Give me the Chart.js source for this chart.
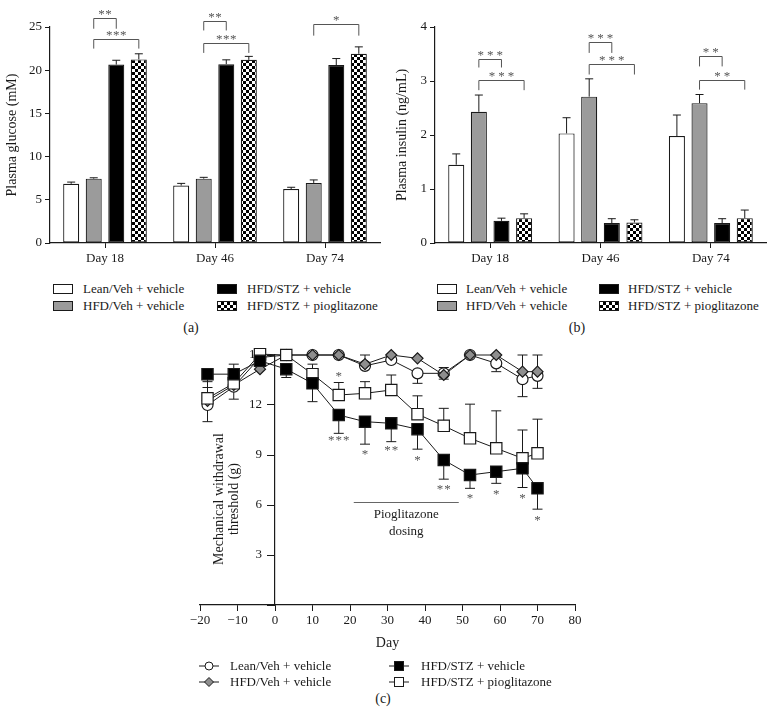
<!DOCTYPE html>
<html>
<head>
<meta charset="utf-8">
<script src="https://cdn.jsdelivr.net/npm/chart.js@4.4.1/dist/chart.umd.min.js"></script>
<style>
  body { margin: 0; background: #fff; }
  #page { position: relative; width: 770px; height: 722px; overflow: hidden;
          font-family: 'Liberation Serif', 'DejaVu Serif', serif; color: #1a1a1a; }
  canvas { position: absolute; }
  .txt { position: absolute; font-size: 13px; line-height: 16px; white-space: nowrap; }
  .box { position: absolute; width: 18px; height: 8px; border: 1px solid #1a1a1a; }
  .sym { position: absolute; }
  .panel { position: absolute; font-size: 14px; line-height: 16px; width: 40px; text-align: center; }
  #mwtTitle { position: absolute; left: 126px; top: 484px; width: 200px; height: 30px;
              font-size: 14px; line-height: 15px; text-align: center; transform: rotate(-90deg); }
</style>
</head>
<body>
<div id="page">
  <canvas id="glucose" width="388" height="275" style="left:0;top:0"></canvas>
  <canvas id="insulin" width="380" height="275" style="left:390px;top:0"></canvas>
  <canvas id="mwt" width="420" height="316" style="left:180px;top:340px"></canvas>
  <div id="mwtTitle">Mechanical withdrawal<br>threshold (g)</div>
  <div class="panel" style="left:171px;top:320px">(a)</div>
  <div class="panel" style="left:557px;top:320px">(b)</div>
  <div class="panel" style="left:363px;top:691px">(c)</div>
</div>
<script>
// groups and days
const groups = ['Lean/Veh + vehicle', 'HFD/Veh + vehicle', 'HFD/STZ + vehicle', 'HFD/STZ + pioglitazone'];
const days = ['Day 18', 'Day 46', 'Day 74'];

// (a) plasma glucose, mM (mean, SEM)
const glucoseLean = [6.85, 6.65, 6.25];
const glucoseHfd  = [7.45, 7.45, 6.95];
const glucoseStz  = [20.65, 20.7, 20.6];
const glucosePio  = [21.25, 21.2, 21.9];
const glucoseLeanErr = [0.2, 0.25, 0.2];
const glucoseHfdErr  = [0.1, 0.15, 0.35];
const glucoseStzErr  = [0.5, 0.5, 0.75];
const glucosePioErr  = [0.65, 0.4, 0.8];
// [day, from group, to group, bracket level, foot level, label]
const glucoseSig = [
  [0, 1, 2, 26.0, 24.8, '**'],
  [0, 1, 3, 23.6, 22.5, '***'],
  [1, 1, 2, 25.7, 24.6, '**'],
  [1, 1, 3, 23.15, 22.0, '***'],
  [2, 1, 3, 25.3, 24.0, '*']
];

// (b) plasma insulin, ng/mL
const insulinLean = [1.45, 2.03, 1.98];
const insulinHfd  = [2.43, 2.71, 2.59];
const insulinStz  = [0.41, 0.37, 0.37];
const insulinPio  = [0.46, 0.38, 0.46];
const insulinLeanErr = [0.2, 0.29, 0.39];
const insulinHfdErr  = [0.31, 0.33, 0.16];
const insulinStzErr  = [0.05, 0.08, 0.08];
const insulinPioErr  = [0.08, 0.05, 0.15];
const insulinSig = [
  [0, 1, 2, 3.41, 3.25, '***'],
  [0, 1, 3, 3.01, 2.83, '***'],
  [1, 1, 2, 3.72, 3.52, '***'],
  [1, 1, 3, 3.32, 3.12, '***'],
  [2, 1, 2, 3.46, 3.27, '**'],
  [2, 1, 3, 3.01, 2.84, '**']
];

// (c) mechanical withdrawal threshold, g
const studyDays = [-18, -11, -4, 3, 10, 17, 24, 31, 38, 45, 52, 59, 66, 70];
const leanMwt = [12.0, 13.1, 14.85, 15.0, 15.0, 15.0, 14.35, 14.7, 13.9, 13.9, 15.0, 14.5, 13.55, 13.75];
const hfdMwt  = [12.25, 13.2, 14.15, 15.0, 15.0, 15.0, 14.45, 15.0, 14.8, 13.8, 15.0, 15.0, 14.0, 14.0];
const stzMwt  = [13.85, 13.85, 14.65, 14.15, 13.3, 11.4, 11.0, 10.9, 10.55, 8.7, 7.8, 8.0, 8.2, 7.0];
const pioMwt  = [12.4, 13.3, 15.05, 15.0, 13.85, 12.6, 12.7, 12.9, 11.45, 10.75, 10.0, 9.4, 8.8, 9.1];
const leanErr = [1.0, 0.75, 0, 0, 0, 0, 0.15, 0, 0.6, 0.35, 0, 0.5, 1.05, 0.75];   // drawn down
const hfdErr  = [0, 1.25, 0, 0, 0, 0, 0.55, 0, 0, 0.45, 0, 0, 1.0, 1.0];          // drawn up
const stzErr  = [0.8, 0.4, 0, 0.5, 1.1, 1.1, 1.35, 1.1, 1.2, 1.15, 0.8, 0.7, 1.15, 1.25]; // drawn down
const pioErr  = [1.0, 0.4, 0, 0, 0.6, 0.75, 0.7, 0.9, 1.1, 1.05, 2.05, 2.25, 1.7, 2.05];  // drawn up
const mwtSig = [
  [17, 13.85, '*'], [17, 10.0, '***'], [24, 9.2, '*'], [31, 9.4, '**'], [38, 8.85, '*'],
  [45, 7.1, '**'], [52, 6.55, '*'], [59, 6.8, '*'], [66, 6.55, '*'], [70, 5.25, '*']
];
const dosingDays = [21, 49];
const dosingLevel = 6.2;

const ink = '#1a1a1a';
const serif = "'Liberation Serif', 'DejaVu Serif', serif";
Chart.defaults.font.family = serif;
Chart.defaults.color = ink;
Chart.defaults.animation = false;
Chart.defaults.plugins.legend.display = false;
Chart.defaults.plugins.tooltip.enabled = false;

function checker() {
  const c = document.createElement('canvas');
  c.width = c.height = 6;
  const g = c.getContext('2d');
  g.fillStyle = '#fff'; g.fillRect(0, 0, 6, 6);
  g.fillStyle = '#000'; g.fillRect(0, 0, 3, 3); g.fillRect(3, 3, 3, 3);
  return g.createPattern(c, 'repeat');
}
const barFills = ['#ffffff', '#9b9b9b', '#000000', checker()];
const swatchCss = ['#fff', '#9b9b9b', '#000', 'repeating-conic-gradient(#000 0 25%, #fff 0 50%) 0 0 / 6px 6px'];

function stars(ctx, x, y, label, gap) {
  const n = label.length;
  for (let i = 0; i < n; i++) ctx.fillText('*', x + (i - (n - 1) / 2) * gap, y + 6);
}

function barMarks(errors, brackets, gap) {
  return {
    id: 'barMarks',
    afterDatasetsDraw(chart) {
      const ctx = chart.ctx, y = chart.scales.y;
      ctx.save();
      ctx.strokeStyle = ink; ctx.lineWidth = 1;
      errors.forEach((errs, d) => {
        chart.getDatasetMeta(d).data.forEach((bar, i) => {
          const v = chart.data.datasets[d].data[i];
          const top = y.getPixelForValue(v + errs[i]);
          ctx.beginPath();
          ctx.moveTo(bar.x, bar.y); ctx.lineTo(bar.x, top);
          ctx.moveTo(bar.x - 4, top); ctx.lineTo(bar.x + 4, top);
          ctx.stroke();
        });
      });
      ctx.strokeStyle = '#555'; ctx.fillStyle = '#555';
      ctx.font = '13px ' + serif; ctx.textAlign = 'center'; ctx.textBaseline = 'alphabetic';
      brackets.forEach(([day, a, b, level, foot, label]) => {
        const x1 = chart.getDatasetMeta(a).data[day].x;
        const x2 = chart.getDatasetMeta(b).data[day].x;
        const yl = Math.round(y.getPixelForValue(level)) + 0.5;
        const yf = y.getPixelForValue(foot);
        ctx.beginPath();
        ctx.moveTo(x1, yf); ctx.lineTo(x1, yl); ctx.lineTo(x2, yl); ctx.lineTo(x2, yf);
        ctx.stroke();
        stars(ctx, (x1 + x2) / 2, yl - 7, label, gap);
      });
      ctx.restore();
    }
  };
}

function barChart(id, series, errors, brackets, gap, yMax, yStep, yTitle, yWidth, padRight) {
  return new Chart(document.getElementById(id), {
    type: 'bar',
    data: {
      labels: days,
      datasets: series.map((data, i) => ({
        label: groups[i], data,
        backgroundColor: barFills[i], borderColor: ink, borderWidth: 1.2, borderSkipped: false,
        categoryPercentage: 0.82, barPercentage: 0.71
      }))
    },
    options: {
      responsive: false,
      layout: { padding: { left: 0, right: padRight, top: 27, bottom: 0 } },
      scales: {
        x: {
          grid: { offset: false, drawOnChartArea: false, tickLength: 5, color: ink },
          border: { color: ink, width: 1.2 },
          ticks: { font: { size: 13 }, padding: 3, color: ink },
          afterFit: s => { s.height = 32; }
        },
        y: {
          min: 0, max: yMax,
          ticks: { stepSize: yStep, font: { size: 13 }, padding: 3, color: ink },
          grid: { drawOnChartArea: false, tickLength: 5, color: ink },
          border: { color: ink, width: 1.2 },
          title: { display: true, text: yTitle, font: { size: 14 }, color: ink, padding: { top: 4, bottom: 0 } },
          afterFit: s => { s.width = yWidth; }
        }
      }
    },
    plugins: [barMarks(errors, brackets, gap)]
  });
}

barChart('glucose',
  [glucoseLean, glucoseHfd, glucoseStz, glucosePio],
  [glucoseLeanErr, glucoseHfdErr, glucoseStzErr, glucosePioErr],
  glucoseSig, 7, 25, 5, 'Plasma glucose (mM)', 50, 8);

barChart('insulin',
  [insulinLean, insulinHfd, insulinStz, insulinPio],
  [insulinLeanErr, insulinHfdErr, insulinStzErr, insulinPioErr],
  insulinSig, 9.5, 4, 1, 'Plasma insulin (ng/mL)', 45, 4);

// line chart (c)
const pairs = vals => studyDays.map((d, i) => ({ x: d, y: vals[i] }));
const mwtErrors = [[leanErr, -1], [hfdErr, 1], [stzErr, -1], [pioErr, 1]];

const mwtMarks = {
  id: 'mwtMarks',
  beforeDatasetsDraw(chart) {
    const ctx = chart.ctx, y = chart.scales.y;
    ctx.save();
    ctx.strokeStyle = ink; ctx.lineWidth = 1;
    mwtErrors.forEach(([errs, dir], d) => {
      chart.getDatasetMeta(d).data.forEach((pt, i) => {
        if (!errs[i]) return;
        const v = chart.data.datasets[d].data[i].y;
        const end = y.getPixelForValue(v + dir * errs[i]);
        ctx.beginPath();
        ctx.moveTo(pt.x, pt.y); ctx.lineTo(pt.x, end);
        ctx.moveTo(pt.x - 5, end); ctx.lineTo(pt.x + 5, end);
        ctx.stroke();
      });
    });
    ctx.restore();
  },
  afterDatasetsDraw(chart) {
    const ctx = chart.ctx, x = chart.scales.x, y = chart.scales.y;
    ctx.save();
    ctx.fillStyle = '#555';
    ctx.font = '13px ' + serif; ctx.textAlign = 'center'; ctx.textBaseline = 'alphabetic';
    mwtSig.forEach(([d, v, label]) => stars(ctx, x.getPixelForValue(d), y.getPixelForValue(v), label, 7.5));
    ctx.strokeStyle = '#666'; ctx.lineWidth = 1;
    const ly = Math.round(y.getPixelForValue(dosingLevel)) + 0.5;
    ctx.beginPath();
    ctx.moveTo(x.getPixelForValue(dosingDays[0]), ly);
    ctx.lineTo(x.getPixelForValue(dosingDays[1]), ly);
    ctx.stroke();
    ctx.fillStyle = ink; ctx.textBaseline = 'middle';
    const cx = x.getPixelForValue((dosingDays[0] + dosingDays[1]) / 2);
    ctx.fillText('Pioglitazone', cx, y.getPixelForValue(5.4));
    ctx.fillText('dosing', cx, y.getPixelForValue(4.4));
    ctx.restore();
  }
};

new Chart(document.getElementById('mwt'), {
  type: 'line',
  data: {
    datasets: [
      { label: groups[0], data: pairs(leanMwt), pointStyle: 'circle', pointRadius: 5.5, pointBackgroundColor: '#fff', order: 3 },
      { label: groups[1], data: pairs(hfdMwt), pointStyle: 'rectRot', pointRadius: 5.5, pointBackgroundColor: '#8e8e8e', order: 2 },
      { label: groups[2], data: pairs(stzMwt), pointStyle: 'rect', pointRadius: 8, pointBackgroundColor: '#000', order: 0 },
      { label: groups[3], data: pairs(pioMwt), pointStyle: 'rect', pointRadius: 8, pointBackgroundColor: '#fff', order: 1 }
    ].map(d => Object.assign({ borderColor: ink, borderWidth: 1, pointBorderColor: ink, pointBorderWidth: 1.2,
                               clip: false, tension: 0, fill: false }, d))
  },
  options: {
    responsive: false,
    layout: { padding: { left: 20, right: 25, top: 15, bottom: 0 } },
    scales: {
      x: {
        type: 'linear', min: -20, max: 80,
        ticks: { stepSize: 10, callback: v => String(v).replace('-', '\u2212'), font: { size: 13 }, padding: 2, color: ink },
        grid: { drawOnChartArea: false, tickLength: 6, color: ink },
        border: { color: ink, width: 1.2 },
        title: { display: true, text: 'Day', font: { size: 14 }, color: ink, padding: { top: 4, bottom: 4 } },
        afterFit: s => { s.height = 51; }
      },
      y: {
        position: { x: 0 }, min: 0, max: 15,
        // an axis placed at x = 0 sets its labels flush on the line, so en spaces push them clear of the ticks
        ticks: { stepSize: 3, callback: v => (v === 0 ? '' : v + '\u2002\u2002'), font: { size: 13 }, color: ink },
        grid: { drawOnChartArea: false, tickLength: 7, color: ink },
        border: { color: ink, width: 1.2 }
      }
    }
  },
  plugins: [mwtMarks]
});

// legends
const page = document.getElementById('page');
function add(html) { page.insertAdjacentHTML('beforeend', html); }
function boxLegend(cols, texts, rows) {
  groups.forEach((g, i) => {
    const c = Math.floor(i / 2), r = rows[i % 2];
    add(`<div class="box" style="left:${cols[c]}px;top:${r - 5}px;background:${swatchCss[i]}"></div>`);
    add(`<div class="txt" style="left:${texts[c]}px;top:${r - 8}px">${g}</div>`);
  });
}
boxLegend([53, 217], [83, 247], [289, 306]);
boxLegend([437, 599], [466, 628], [289, 306]);

const symbols = [
  '<circle cx="10" cy="6" r="4" fill="#fff" stroke="#1a1a1a"/>',
  '<polygon points="10,1.5 14.5,6 10,10.5 5.5,6" fill="#8e8e8e" stroke="#1a1a1a"/>',
  '<rect x="5.5" y="1.5" width="9" height="9" fill="#000" stroke="#1a1a1a"/>',
  '<rect x="5.5" y="1.5" width="9" height="9" fill="#fff" stroke="#1a1a1a"/>'
];
groups.forEach((g, i) => {
  const c = Math.floor(i / 2), r = [666, 682][i % 2];
  const sx = [199, 389][c], tx = [230, 421][c];
  add(`<svg class="sym" width="20" height="12" style="left:${sx}px;top:${r - 6}px">` +
      `<line x1="0" y1="6" x2="20" y2="6" stroke="#1a1a1a"/>${symbols[i]}</svg>`);
  add(`<div class="txt" style="left:${tx}px;top:${r - 8}px">${g}</div>`);
});
</script>
</body>
</html>
